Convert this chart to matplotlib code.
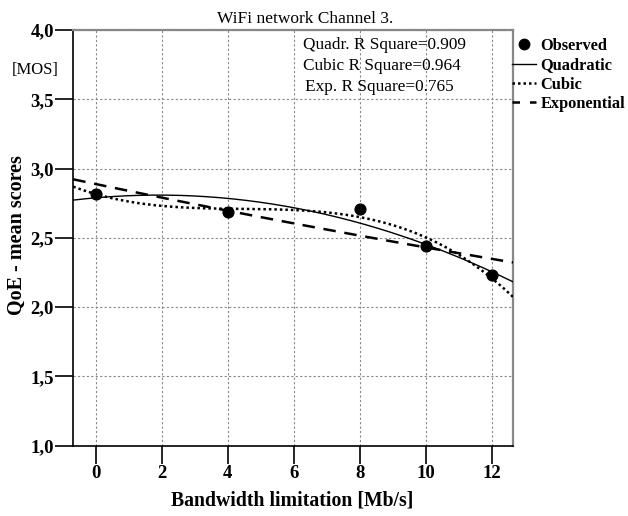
import numpy as np
import matplotlib
matplotlib.use("Agg")
import matplotlib.pyplot as plt
from matplotlib.lines import Line2D
from matplotlib.ticker import FuncFormatter

# ---- data ----
bandwidth = [0, 4, 8, 10, 12]
mos_observed = [2.82, 2.69, 2.71, 2.44, 2.23]
r2_labels = ["Quadr. R Square=0.909", "Cubic R Square=0.964", "Exp. R Square=0.765"]
x_ticks = [0, 2, 4, 6, 8, 10, 12]
y_ticks = [1.0, 1.5, 2.0, 2.5, 3.0, 3.5, 4.0]
title = "WiFi network Channel 3."
xlabel = "Bandwidth limitation [Mb/s]"
ylabel = "QoE - mean scores"
legend_labels = ["Observed", "Quadratic", "Cubic", "Exponential"]

plt.rcParams['font.family'] = ['Liberation Serif', 'DejaVu Serif']

fig = plt.figure(figsize=(6.28, 5.16), dpi=100)
ax = fig.add_axes([0.1167, 0.1362, 0.8169 - 0.1167, 0.9419 - 0.1362])

xlim = (-0.68, 12.65)
ax.set_xlim(*xlim)
ax.set_ylim(1.0, 4.0)

# regression curves fitted to the observed data
xb = np.array(bandwidth, dtype=float)
yb = np.array(mos_observed, dtype=float)
xs = np.linspace(xlim[0], xlim[1], 300)
quad = np.polyval(np.polyfit(xb, yb, 2), xs)
cub = np.polyval(np.polyfit(xb, yb, 3), xs)
b, loga = np.polyfit(xb, np.log(yb), 1)
expo = np.exp(loga + b * xs)

ax.plot(xs, quad, color='black', lw=1.0, ls='-', zorder=3)
ax.plot(xs, cub, color='black', lw=1.8, ls=(0, (1, 1.2)), zorder=3)
ax.plot(xs, expo, color='black', lw=1.8, ls=(0, (5, 3.5)), zorder=3)
ax.scatter(bandwidth, mos_observed, s=60, color='black', zorder=4)

ax.set_xticks(x_ticks)
ax.set_yticks(y_ticks)
ax.yaxis.set_major_formatter(FuncFormatter(lambda v, p: f"{v:.1f}".replace('.', ',')))
ax.grid(True, color='#888888', ls=(0, (2, 2)), lw=0.8)
ax.set_axisbelow(True)
ax.tick_params(axis='both', direction='out', length=13, width=1.2, color='black',
               labelsize=13.5, pad=1)
for lab in ax.get_xticklabels() + ax.get_yticklabels():
    lab.set_fontweight('bold')
ax.tick_params(axis='x', pad=1)

for s in ['left', 'bottom']:
    ax.spines[s].set_color('black')
    ax.spines[s].set_linewidth(1.2)
for s in ['top', 'right']:
    ax.spines[s].set_color('#888888')
    ax.spines[s].set_linewidth(1.6)

fig.text(0.486, 0.964, title, ha='center', va='center', fontsize=12.5)
fig.text(0.466, 0.031, xlabel, ha='center', va='center', fontsize=14.2, fontweight='bold')
fig.text(0.027, 0.545, ylabel, ha='center', va='center', rotation=90,
         fontsize=14.5, fontweight='bold')
fig.text(0.019, 0.864, "[MOS]", ha='left', va='center', fontsize=12)

for i, t in enumerate(r2_labels):
    fig.text(0.482 + (0.004 if i == 2 else 0), 0.913 - i * 0.0405, t,
             ha='left', va='center', fontsize=12.4)

handles = [
    Line2D([], [], marker='o', color='black', ls='none', markersize=7.5),
    Line2D([], [], color='black', lw=1.0, ls='-'),
    Line2D([], [], color='black', lw=1.8, ls=(0, (1, 1.2))),
    Line2D([], [], color='black', lw=1.8, ls=(0, (3, 4))),
]
leg = fig.legend(handles, legend_labels, loc='upper left', bbox_to_anchor=(0.815, 0.926),
                 frameon=False, fontsize=11.8, handlelength=1.45, handletextpad=0.3,
                 labelspacing=0.2, borderaxespad=0, borderpad=0)
for t in leg.get_texts():
    t.set_fontweight('bold')

fig.savefig("out.png", dpi=100)
